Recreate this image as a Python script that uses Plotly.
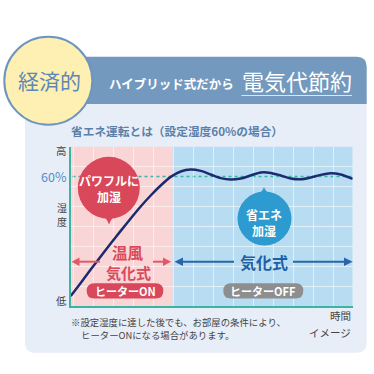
import plotly.graph_objects as go

W = H = 374
FONT = "Noto Sans CJK JP"

# ---- data ----
time = [0, 0.5, 1, 1.5, 2, 2.5, 3, 3.5, 4, 4.5, 5, 5.5, 6, 6.5, 7, 7.5, 8, 8.5,
        9, 9.5, 10, 10.5, 11, 11.5, 12, 12.5, 13, 13.5, 14.1]
humidity = [30.1, 33.4, 36.75, 40.0, 43.25, 46.4, 49.5, 52.5, 55.25, 57.75, 59.9,
            61.25, 61.75, 61.4, 60.5, 59.6, 59.25, 59.5, 60.25, 61.0, 60.9, 60.25,
            59.5, 59.3, 59.75, 60.4, 60.8, 60.5, 59.4]
target_humidity = 60
phase_edges = [0, 5.1, 14.1]
phase_names = ["ヒーターON", "ヒーターOFF"]
phase_modes_top = ["温風", ""]
phase_modes = ["気化式", "気化式"]
y_labels = ["高", "60%", "湿度", "低"]

X_RANGE = [0, 14.1]
Y_RANGE = [27.625, 67.45]

# colours
PANEL = "#e8eef7"
HEADER = "#7399be"
PINK = "#f9d5d6"
BLUE = "#b8ddf2"
TEAL = "#3db3a3"
NAVY = "#1c2a6e"
RED = "#d9475a"
RED_ARROW = "#e0596b"
BUBBLE_BLUE = "#2e9bd0"
ARROW_BLUE = "#2a65a8"
GRAY = "#8e8e8e"


def px(x):
    return x / W


def py(y):
    return 1 - y / H


def rrect(x0, y0, x1, y1, tl, tr, br, bl):
    pts = []
    pts.append(f"M {px(x0 + tl)},{py(y0)}")
    pts.append(f"L {px(x1 - tr)},{py(y0)}")
    pts.append(f"Q {px(x1)},{py(y0)} {px(x1)},{py(y0 + tr)}")
    pts.append(f"L {px(x1)},{py(y1 - br)}")
    pts.append(f"Q {px(x1)},{py(y1)} {px(x1 - br)},{py(y1)}")
    pts.append(f"L {px(x0 + bl)},{py(y1)}")
    pts.append(f"Q {px(x0)},{py(y1)} {px(x0)},{py(y1 - bl)}")
    pts.append(f"L {px(x0)},{py(y0 + tl)}")
    pts.append(f"Q {px(x0)},{py(y0)} {px(x0 + tl)},{py(y0)}")
    pts.append("Z")
    return " ".join(pts)


def poly(points):
    return "M " + " L ".join(f"{px(a)},{py(b)}" for a, b in points) + " Z"


def circle(cx, cy, r, fill, line=None, lw=0, layer="above"):
    return dict(type="circle", xref="paper", yref="paper",
                x0=px(cx - r), x1=px(cx + r), y0=py(cy + r), y1=py(cy - r),
                fillcolor=fill, line=dict(color=line or fill, width=lw), layer=layer)


def pline(x0, y0, x1, y1, color, width=2, layer="above", dash=None):
    d = dict(color=color, width=width)
    if dash:
        d["dash"] = dash
    return dict(type="line", xref="paper", yref="paper", x0=px(x0), y0=py(y0),
                x1=px(x1), y1=py(y1), line=d, layer=layer)


def path(p, fill, layer="above"):
    return dict(type="path", xref="paper", yref="paper", path=p, fillcolor=fill,
                line=dict(width=0), layer=layer)


fig = go.Figure()
fig.add_trace(go.Scatter(x=time, y=humidity, mode="lines",
                         line=dict(color=NAVY, width=2.5, shape="spline", smoothing=0.8),
                         hoverinfo="skip", showlegend=False))

shapes = []
# panel + header
shapes.append(path(rrect(25, 100, 366.7, 352.7, 0, 0, 10, 10), PANEL, layer="below"))
shapes.append(path(rrect(76.7, 56.7, 366.7, 104, 0, 10, 0, 0), HEADER, layer="below"))
# phase regions (data driven)
for i, col in enumerate([PINK, BLUE]):
    shapes.append(dict(type="rect", xref="x", yref="y domain",
                       x0=phase_edges[i], x1=phase_edges[i + 1], y0=0, y1=1,
                       fillcolor=col, line=dict(width=0), layer="below"))
# target humidity dotted line
shapes.append(dict(type="line", xref="paper", yref="y", x0=px(72.5), x1=px(352.7),
                   y0=target_humidity, y1=target_humidity,
                   line=dict(color=TEAL, width=1.6, dash="dot"), layer="between"))
# header underline
shapes.append(pline(241.5, 95.5, 352, 95.5, "#dbe6f2", 1.2))
# badge circle
shapes.append(circle(48.3, 80.8, 44, "#fdf0b2", "#6d95be", 2))

# red bubble
shapes.append(circle(108.8, 187.8, 31, RED))
shapes.append(path(f"M {px(100)},{py(214)} Q {px(107)},{py(218)} {px(109)},{py(224.5)} "
                   f"Q {px(111)},{py(218)} {px(118)},{py(214)} Z", RED))
# blue bubble
shapes.append(circle(264.5, 218.5, 27, BUBBLE_BLUE))
shapes.append(path(f"M {px(255)},{py(196)} Q {px(262)},{py(193)} {px(264)},{py(187)} "
                   f"Q {px(266)},{py(193)} {px(274)},{py(196)} Z", BUBBLE_BLUE))

# red arrows
ay = 261.7
shapes.append(pline(77, ay, 100, ay, RED_ARROW, 2))
shapes.append(path(poly([(71.5, ay), (79.5, ay - 4.2), (79.5, ay + 4.2)]), RED_ARROW))
shapes.append(pline(153, ay, 164, ay, RED_ARROW, 2))
shapes.append(path(poly([(171, ay), (163, ay - 4.2), (163, ay + 4.2)]), RED_ARROW))
# blue arrows
shapes.append(pline(181, ay, 234, ay, ARROW_BLUE, 2))
shapes.append(path(poly([(174.5, ay), (183, ay - 4.2), (183, ay + 4.2)]), ARROW_BLUE))
shapes.append(pline(293, ay, 346, ay, ARROW_BLUE, 2))
shapes.append(path(poly([(352.7, ay), (344, ay - 4.2), (344, ay + 4.2)]), ARROW_BLUE))

# pills
shapes.append(path(rrect(86.7, 283.3, 163.3, 298.6, 7.6, 7.6, 7.6, 7.6), RED))
shapes.append(path(rrect(223.3, 283.3, 303.3, 298.6, 7.6, 7.6, 7.6, 7.6), GRAY))

ann = []


def text(x, y, t, size, color, bold=False, xanchor="center", align="center"):
    ann.append(dict(x=px(x), y=py(y), xref="paper", yref="paper", text=t,
                    showarrow=False, xanchor=xanchor, yanchor="middle", align=align,
                    borderpad=0,
                    font=dict(family=FONT, size=size, color=color,
                              weight="bold" if bold else "normal")))


text(49, 80, "経済的", 21, "#5d87b5")
text(171.5, 83.3, "ハイブリッド式だから", 12.5, "white", True)
text(296.5, 80, "電気代節約", 22, "white")
text(70, 130.5, "省エネ運転とは（設定湿度60%の場合）", 11.7, "#5a80aa", True, "left")

text(61.7, 150, y_labels[0], 10.5, "#444444")
text(67.5, 176.8, y_labels[1], 12.5, "#4d8fc9", False, "right")
text(61.7, 207.8, y_labels[2][0], 10, "#444444")
text(61.7, 221.2, y_labels[2][1], 10, "#444444")
text(61.7, 300.7, y_labels[3], 10.5, "#444444")

text(108.8, 188.5, "パワフルに<br>加湿", 12, "white", True)
text(264, 222, "省エネ<br>加湿", 12, "white", True)

mid0 = (86.7 + 163.3) / 2
text(128.3, 251.8, phase_modes_top[0], 15.5, "#d94a5c", True)
text(128.3, 272.3, phase_modes[0], 15, "#d94a5c", True)
text(264, 261.7, phase_modes[1], 16, "#1f5fa5", True)
text(mid0, 291, phase_names[0], 11, "white", True)
text(263.3, 291, phase_names[1], 11, "white", True)

text(70, 322.2, "※設定湿度に達した後でも、お部屋の条件により、", 9.4, "#444444", False, "left")
text(80, 334.6, "ヒーターONになる場合があります。", 9.4, "#444444", False, "left")
text(352, 315, "時間", 10.5, "#444444", False, "right")
text(352, 332.5, "イメージ", 10.5, "#444444", False, "right")

fig.update_layout(
    width=W, height=H, margin=dict(l=0, r=0, t=0, b=0),
    paper_bgcolor="white", plot_bgcolor="rgba(0,0,0,0)",
    shapes=shapes, annotations=ann, showlegend=False,
    xaxis=dict(domain=[px(70.7), px(352.7)], range=X_RANGE, tick0=0.13, dtick=1,
               showgrid=True, gridcolor="rgba(255,255,255,0.55)", gridwidth=1,
               showticklabels=False, ticks="", zeroline=False,
               showline=True, linecolor=TEAL, linewidth=2, fixedrange=True),
    yaxis=dict(domain=[py(306), py(146.7)], range=Y_RANGE, tick0=Y_RANGE[0], dtick=5,
               showgrid=True, gridcolor="rgba(255,255,255,0.55)", gridwidth=1,
               showticklabels=False, ticks="", zeroline=False,
               showline=True, linecolor=TEAL, linewidth=2, fixedrange=True),
)

fig.write_html("out.html", config={"displayModeBar": False},
               post_script="document.body.style.margin='0';")
